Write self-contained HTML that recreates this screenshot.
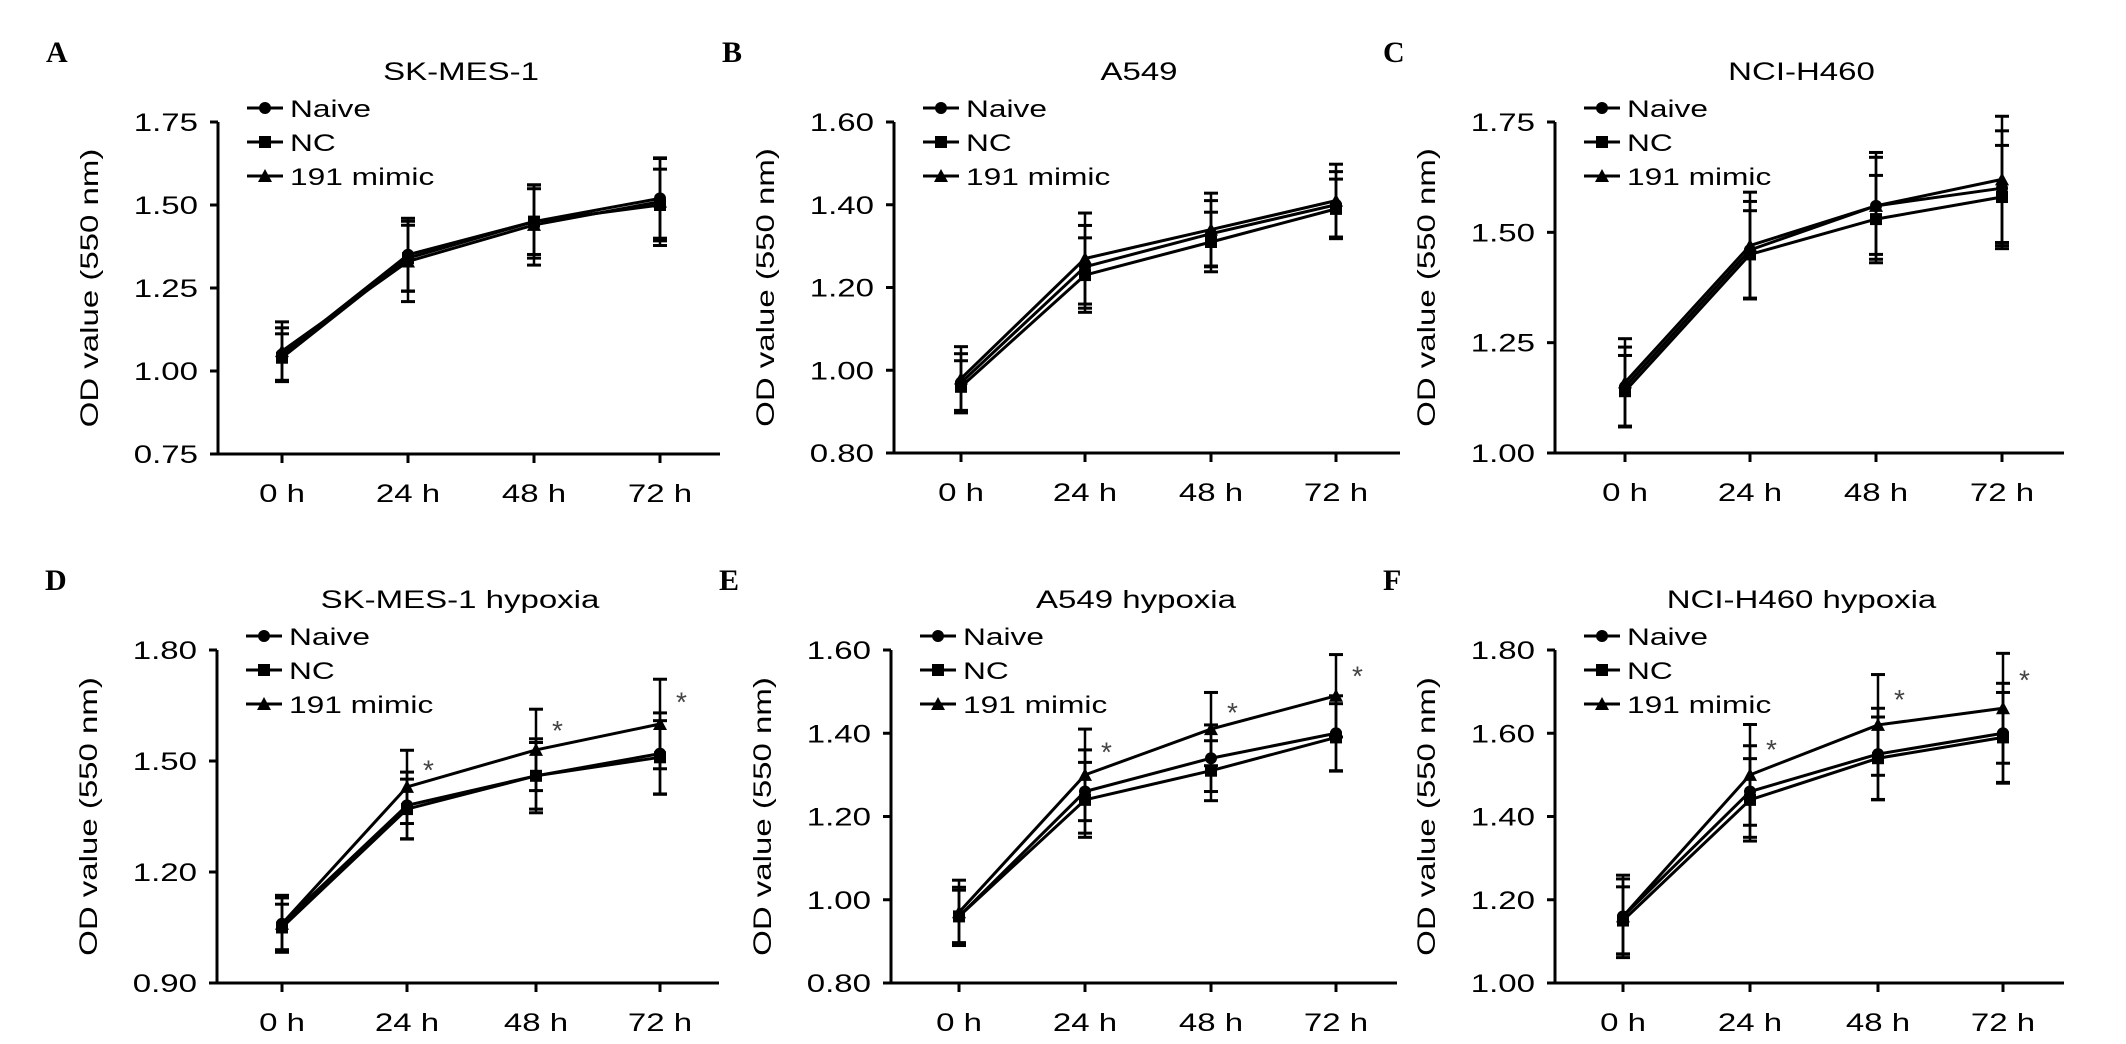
<!DOCTYPE html>
<html><head><meta charset="utf-8"><style>
html,body{margin:0;padding:0;background:#fff;}
svg{display:block;font-family:"Liberation Sans",Arial,sans-serif;}
</style></head><body>
<svg id="fig" width="2126" height="1044" viewBox="0 0 2126 1044"></svg>
<script>
const timeLabels = ["0 h","24 h","48 h","72 h"];
const seriesNames = ["Naive","NC","191 mimic"];
const panelLetters = ["A","B","C","D","E","F"];
const panelTitles = ["SK-MES-1","A549","NCI-H460","SK-MES-1 hypoxia","A549 hypoxia","NCI-H460 hypoxia"];
const yTicksA = [0.75,1.00,1.25,1.50,1.75];
const yTicksB = [0.80,1.00,1.20,1.40,1.60];
const yTicksC = [1.00,1.25,1.50,1.75];
const yTicksD = [0.90,1.20,1.50,1.80];
const yTicksE = [0.80,1.00,1.20,1.40,1.60];
const yTicksF = [1.00,1.20,1.40,1.60,1.80];
const naiveA = [1.05,1.35,1.45,1.52], ncA = [1.04,1.34,1.45,1.50], mimicA = [1.06,1.33,1.44,1.51];
const errA = [0.08,0.11,0.11,0.12];
const naiveB = [0.97,1.25,1.33,1.40], ncB = [0.96,1.23,1.31,1.39], mimicB = [0.98,1.27,1.34,1.41];
const errB = [0.07,0.10,0.08,0.08];
const naiveC = [1.15,1.46,1.56,1.60], ncC = [1.14,1.45,1.53,1.58], mimicC = [1.16,1.47,1.56,1.62];
const errC = [0.09,0.11,0.11,0.13];
const naiveD = [1.06,1.38,1.46,1.52], ncD = [1.05,1.37,1.46,1.51], mimicD = [1.06,1.43,1.53,1.60];
const errD = [0.07,0.09,0.10,0.11];
const naiveE = [0.96,1.26,1.34,1.40], ncE = [0.96,1.24,1.31,1.39], mimicE = [0.97,1.30,1.41,1.49];
const errE = [0.07,0.10,0.08,0.09];
const naiveF = [1.16,1.46,1.55,1.60], ncF = [1.15,1.44,1.54,1.59], mimicF = [1.16,1.50,1.62,1.66];
const errF = [0.09,0.11,0.11,0.12];
const starPanels = [false,false,false,true,true,true];

const panels = [
 {ax:218,xr:720,top:122,bot:454,ticks:yTicksA,s:[naiveA,ncA,mimicA],e:errA,xs:[282,408,534,660]},
 {ax:894,xr:1400,top:122,bot:453,ticks:yTicksB,s:[naiveB,ncB,mimicB],e:errB,xs:[961,1085,1211,1336]},
 {ax:1555,xr:2064,top:122,bot:453,ticks:yTicksC,s:[naiveC,ncC,mimicC],e:errC,xs:[1625,1750,1876,2002]},
 {ax:217,xr:719,top:650,bot:983,ticks:yTicksD,s:[naiveD,ncD,mimicD],e:errD,xs:[282,407,536,660]},
 {ax:891,xr:1397,top:650,bot:983,ticks:yTicksE,s:[naiveE,ncE,mimicE],e:errE,xs:[959,1085,1211,1336]},
 {ax:1555,xr:2064,top:650,bot:983,ticks:yTicksF,s:[naiveF,ncF,mimicF],e:errF,xs:[1623,1750,1878,2003]}
];
const NS="http://www.w3.org/2000/svg";
const svg=document.getElementById('fig');
const SX=1.32;
function mk(tag,attrs,parent){const el=document.createElementNS(NS,tag);for(const k in attrs)el.setAttribute(k,attrs[k]);(parent||svg).appendChild(el);return el;}
function txt(parent,x,y,str,size,anchor,rot,extra){
  const a={x:0,y:0,'font-size':size,'text-anchor':anchor||'start',
    transform:`translate(${x},${y})`+(rot?` rotate(${rot})`:'')+` scale(${SX},1)`};
  if(extra)for(const k in extra)a[k]=extra[k];
  const t=mk('text',a,parent);t.textContent=str;return t;
}
function marker(g,kind,x,y){
  if(kind===0) return mk('circle',{cx:x,cy:y,r:6,fill:'#000'},g);
  if(kind===1) return mk('rect',{x:x-6,y:y-6,width:12,height:12,fill:'#000'},g);
  return mk('polygon',{points:`${x},${y-7} ${x+7},${y+6} ${x-7},${y+6}`,fill:'#000'},g);
}
panels.forEach((p,i)=>{
  const g=mk('g',{});
  
  
  const lo=p.ticks[0], hi=p.ticks[p.ticks.length-1];
  const yS=v=>p.bot-(v-lo)/(hi-lo)*(p.bot-p.top);
  const xS=k=>p.xs[k];
  const L=mk('text',{x:p.ax-172,y:p.top-60,'font-size':30,'font-weight':'bold','font-family':'"Liberation Serif",serif'},g);
  L.textContent=panelLetters[i];
  
  
  const T=txt(g,(p.ax+p.xr)/2-8,p.top-42,panelTitles[i],25,'middle');
  
  
  const yt=txt(g,p.ax-120,(p.top+p.bot)/2,"OD value (550 nm)",25,'middle',-90);
  
  
  const axes=mk('path',{d:`M${p.ax},${p.top} V${p.bot} H${p.xr}`,stroke:'#000','stroke-width':3,fill:'none'},g);
  
  
  p.ticks.forEach(t=>{
    mk('line',{x1:p.ax-8,x2:p.ax,y1:yS(t),y2:yS(t),stroke:'#000','stroke-width':3},g);
    const tl=txt(g,p.ax-20,yS(t)+9,t.toFixed(2),25,'end');
    
    
  });
  timeLabels.forEach((lab,k)=>{
    mk('line',{x1:xS(k),x2:xS(k),y1:p.bot,y2:p.bot+9,stroke:'#000','stroke-width':3},g);
    const tl=txt(g,xS(k),p.bot+48,lab,25,'middle');
    
    
  });
  p.s.forEach((vals,si)=>{
    const sg=mk('g',{},g);
    
    
    vals.forEach((v,k)=>{
      const e=p.e[k]*(si===1?0.9:si===2?1.1:1);
      mk('line',{x1:xS(k),x2:xS(k),y1:yS(v-e),y2:yS(v+e),stroke:'#000','stroke-width':2.5},sg);
      mk('line',{x1:xS(k)-7,x2:xS(k)+7,y1:yS(v+e),y2:yS(v+e),stroke:'#000','stroke-width':3},sg);
      mk('line',{x1:xS(k)-7,x2:xS(k)+7,y1:yS(v-e),y2:yS(v-e),stroke:'#000','stroke-width':3},sg);
    });
    mk('polyline',{points:vals.map((v,k)=>xS(k)+','+yS(v)).join(' '),stroke:'#000','stroke-width':3,fill:'none'},sg);
    vals.forEach((v,k)=>marker(sg,si,xS(k),yS(v)));
  });
  if(starPanels[i]){
    const mim=p.s[2];
    for(let k=1;k<4;k++){
      const st=mk('text',{x:xS(k)+16,y:yS(mim[k]+p.e[k]*0.7)+16,'font-size':28,'fill':'#444'},g);
      st.textContent='*';
      
      
    }
  }
  const lg=mk('g',{},g);
  
  
  const lx=p.ax+29, ly0=p.top-14;
  seriesNames.forEach((n,si)=>{
    const y=ly0+si*34;
    mk('line',{x1:lx,x2:lx+36,y1:y,y2:y,stroke:'#000','stroke-width':3},lg);
    marker(lg,si,lx+18,y);
    const t=txt(lg,lx+43,y+9,n,24,'start');
    
    
  });
});
</script>
</body></html>
